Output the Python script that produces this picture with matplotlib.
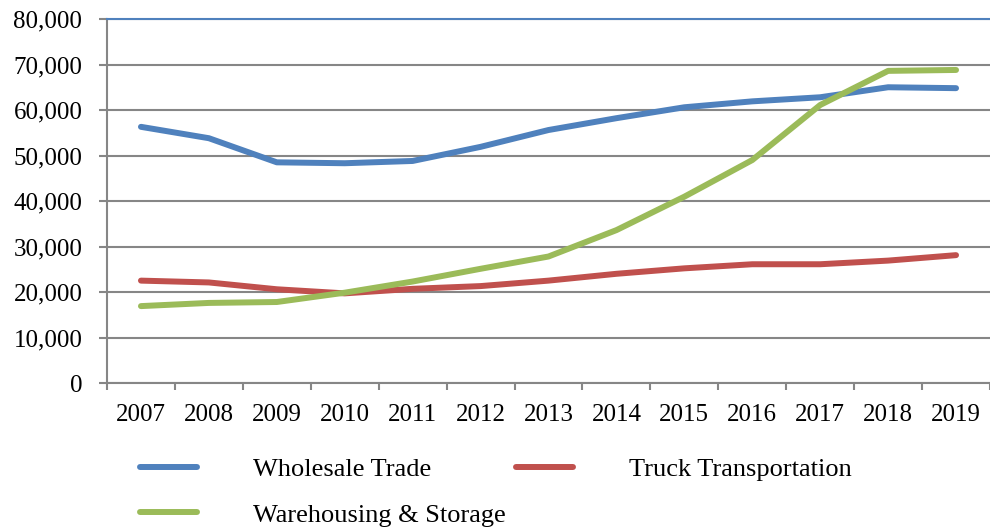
import matplotlib
matplotlib.use("Agg")
import matplotlib.pyplot as plt
from matplotlib.ticker import FuncFormatter, FixedLocator

plt.rcParams['font.family'] = ['Liberation Serif', 'DejaVu Serif']

years = ['2007', '2008', '2009', '2010', '2011', '2012', '2013',
         '2014', '2015', '2016', '2017', '2018', '2019']
wholesale = [56300, 53800, 48500, 48300, 48800, 51900, 55600,
             58200, 60600, 61900, 62800, 65000, 64800]
truck = [22500, 22100, 20600, 19700, 20700, 21300, 22500,
         24000, 25200, 26100, 26100, 26900, 28100]
warehousing = [16900, 17600, 17800, 19850, 22300, 25100, 27800,
               33600, 40950, 49000, 61100, 68600, 68800]
series_names = ['Wholesale Trade', 'Truck Transportation', 'Warehousing & Storage']
colors = ['#4F81BD', '#C0504D', '#9BBB59']

fig = plt.figure(figsize=(9.9, 5.29), dpi=100)
ax = fig.add_axes([107/990, 1-383/529, 883/990, 364/529])

x = list(range(len(years)))
lw = 4.3
l1, = ax.plot(x, wholesale, color=colors[0], lw=lw, solid_capstyle='round', solid_joinstyle='round')
l2, = ax.plot(x, truck, color=colors[1], lw=lw, solid_capstyle='round', solid_joinstyle='round')
l3, = ax.plot(x, warehousing, color=colors[2], lw=lw, solid_capstyle='round', solid_joinstyle='round')

ax.set_xlim(-0.5, len(years) - 0.5)
ax.set_ylim(0, 80000)
ax.set_yticks(range(0, 80001, 10000))
ax.yaxis.set_major_formatter(FuncFormatter(lambda v, p: f"{int(v):,}"))

ax.xaxis.set_major_locator(FixedLocator([i - 0.5 for i in range(len(years) + 1)]))
ax.xaxis.set_minor_locator(FixedLocator(x))
ax.set_xticklabels([])
ax.set_xticklabels(years, minor=True)
ax.tick_params(axis='x', which='major', length=5, width=1.5, color='#868686', direction='out')
ax.tick_params(axis='x', which='minor', length=0, pad=15, labelsize=18)
ax.tick_params(axis='y', length=5.8, width=1.5, color='#868686', direction='out', pad=12, labelsize=18)

ax.grid(axis='y', color='#868686', lw=1.5)
ax.set_axisbelow(True)
for s in ['left', 'bottom']:
    ax.spines[s].set_color('#868686')
    ax.spines[s].set_linewidth(1.5)
ax.spines['right'].set_visible(False)
ax.spines['top'].set_color('#4F81BD')
ax.spines['top'].set_linewidth(1.5)

leg = fig.legend([l1, l3, l2], [series_names[0], series_names[2], series_names[1]],
                 ncol=2, loc='upper left', bbox_to_anchor=(140/990, 1 - 458/529),
                 frameon=False, fontsize=19, borderpad=0, borderaxespad=0,
                 handlelength=2.16, handletextpad=2.12, columnspacing=0.4,
                 labelspacing=0.82)

fig.savefig('out.png', dpi=100)
